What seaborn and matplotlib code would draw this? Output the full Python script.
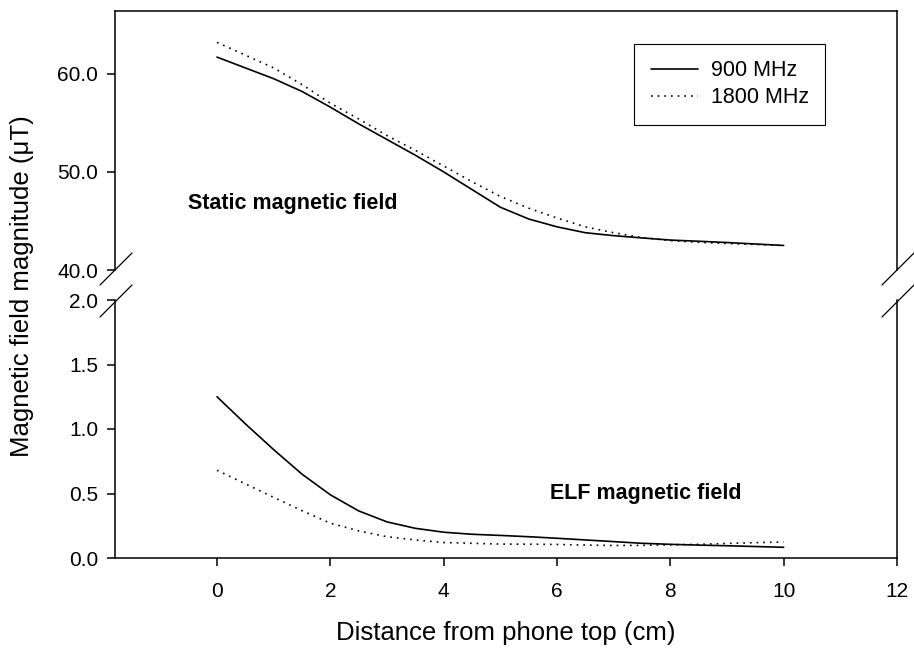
import matplotlib
matplotlib.use("Agg")
import matplotlib.pyplot as plt
from matplotlib.lines import Line2D
import pandas as pd
import seaborn as sns

# Distance from the top of the phone (cm)
distance = [0, 0.5, 1, 1.5, 2, 2.5, 3, 3.5, 4, 4.5, 5,
            5.5, 6, 6.5, 7, 7.5, 8, 8.5, 9, 9.5, 10]

# Static magnetic field (uT)
static_900 = [61.7, 60.6, 59.5, 58.2, 56.6, 54.9, 53.3, 51.7, 50.0, 48.2, 46.4,
              45.2, 44.4, 43.8, 43.5, 43.27, 43.05, 42.93, 42.8, 42.65, 42.5]
static_1800 = [63.2, 61.9, 60.6, 58.9, 57.0, 55.4, 53.7, 52.2, 50.6, 49.0, 47.5,
               46.3, 45.3, 44.4, 43.8, 43.3, 43.0, 42.82, 42.7, 42.6, 42.5]

# ELF magnetic field (uT)
elf_900 = [1.25, 1.04, 0.84, 0.65, 0.49, 0.365, 0.28, 0.23, 0.20, 0.184, 0.175,
           0.165, 0.153, 0.14, 0.127, 0.114, 0.106, 0.10, 0.095, 0.089, 0.083]
elf_1800 = [0.68, 0.575, 0.47, 0.367, 0.27, 0.21, 0.165, 0.14, 0.12, 0.114, 0.108,
            0.107, 0.105, 0.10, 0.097, 0.098, 0.102, 0.106, 0.113, 0.119, 0.124]

bands = ["900 MHz", "1800 MHz"]
x_ticks = [0, 2, 4, 6, 8, 10, 12]
upper_ticks = [40.0, 50.0, 60.0]
lower_ticks = [0.0, 0.5, 1.0, 1.5, 2.0]


def long_frame(a, b):
    return pd.DataFrame({
        "distance": distance * 2,
        "value": list(a) + list(b),
        "band": [bands[0]] * len(a) + [bands[1]] * len(b),
    })


static_df = long_frame(static_900, static_1800)
elf_df = long_frame(elf_900, elf_1800)

sns.set_theme(style="ticks", rc={
    "text.color": "black", "axes.labelcolor": "black",
    "xtick.color": "black", "ytick.color": "black",
    "axes.edgecolor": "black",
})
plt.rcParams["font.family"] = ["Liberation Sans", "DejaVu Sans"]

W, H = 914, 649
fig = plt.figure(figsize=(W / 100, H / 100), dpi=100)


def fx(px):
    return px / W


def fy(py):
    return 1 - py / H


left, right = 115, 897
ax_top = fig.add_axes([fx(left), fy(270), fx(right) - fx(left), fy(11) - fy(270)])
ax_bot = fig.add_axes([fx(left), fy(558), fx(right) - fx(left), fy(300) - fy(558)])

palette = {bands[0]: "black", bands[1]: "black"}
dashes = {bands[0]: "", bands[1]: (1, 3)}

sns.lineplot(data=static_df, x="distance", y="value", hue="band", style="band",
             palette=palette, dashes=dashes, linewidth=1.2, ax=ax_top, legend=True)
sns.lineplot(data=elf_df, x="distance", y="value", hue="band", style="band",
             palette=palette, dashes=dashes, linewidth=1.2, ax=ax_bot, legend=False)

xlim = (-1.8, 12)
for ax in (ax_top, ax_bot):
    ax.set_xlim(*xlim)
    ax.set_xlabel("")
    ax.set_ylabel("")
    for sp in ax.spines.values():
        sp.set_linewidth(1.1)
        sp.set_color("black")
    ax.tick_params(direction="out", length=6, width=1.1, colors="black",
                   labelsize=15)
    ax.tick_params(axis="y", pad=6)
    ax.tick_params(axis="x", pad=11)

ax_top.set_ylim(40, 66.4)
ax_top.set_yticks(upper_ticks)
ax_top.set_yticklabels([f"{v:.1f}" for v in upper_ticks])
ax_top.set_xticks([])
ax_top.spines["bottom"].set_visible(False)

ax_bot.set_ylim(0, 2.0)
ax_bot.set_yticks(lower_ticks)
ax_bot.set_yticklabels([f"{v:.1f}" for v in lower_ticks])
ax_bot.set_xticks(x_ticks)
ax_bot.set_xticklabels([str(t) for t in x_ticks])
ax_bot.spines["top"].set_visible(False)

handles, labels = ax_top.get_legend_handles_labels()
pairs = [(h, l) for h, l in zip(handles, labels) if l in bands]
leg = ax_top.legend([p[0] for p in pairs], [p[1] for p in pairs],
                    loc="upper right", bbox_to_anchor=(0.908, 0.873),
                    borderaxespad=0, fontsize=15.5, frameon=True, fancybox=False,
                    framealpha=1, edgecolor="black", handlelength=2.2,
                    handletextpad=0.6, borderpad=0.75, labelspacing=0.3)
leg.get_frame().set_linewidth(0.8)

ax_top.text(-0.51, 46.8, "Static magnetic field", fontsize=15.5, fontweight="bold",
            ha="left", va="center")
ax_bot.text(5.88, 0.50, "ELF magnetic field", fontsize=15.5, fontweight="bold",
            ha="left", va="center")

# Axis-break marks on both side spines
for x0 in (100, 882):
    for y0 in (285, 317):
        fig.add_artist(Line2D([fx(x0), fx(x0 + 32)], [fy(y0), fy(y0 - 32)],
                              color="black", linewidth=0.9))

fig.text(fx((left + right) / 2), fy(633), "Distance from phone top (cm)",
         fontsize=18.5, ha="center", va="center")
fig.text(fx(22), fy(286), "Magnetic field magnitude (\u03bcT)", fontsize=18.5,
         ha="center", va="center", rotation=90)

fig.savefig("out.png", dpi=100)
